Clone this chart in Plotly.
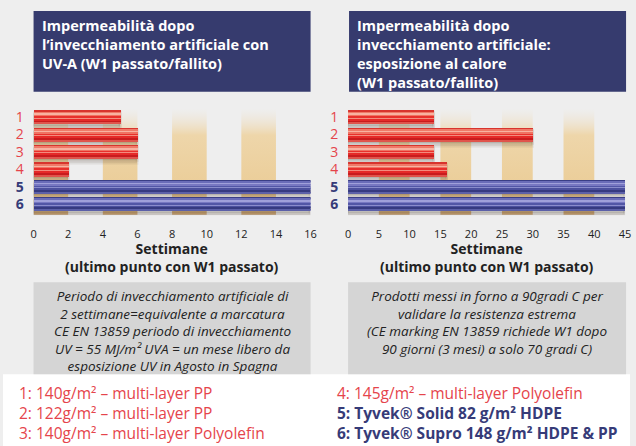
import plotly.graph_objects as go

# ---------------- data ----------------
categories = ["1", "2", "3", "4", "5", "6"]
is_tyvek = [False, False, False, False, True, True]
uv_weeks = [5, 6, 6, 2, 16, 16]          # left chart (weeks)
heat_values = [14, 30, 14, 16, 45, 45]   # right chart
uv_ticks = [0, 2, 4, 6, 8, 10, 12, 14, 16]
heat_ticks = [0, 5, 10, 15, 20, 25, 30, 35, 40, 45]
uv_stripes = [(0, 2), (4, 6), (8, 10), (12, 14)]
heat_stripes = [(5, 10), (15, 20), (25, 30), (35, 40)]

title_left = ["Impermeabilità dopo", "l’invecchiamento artificiale con", "UV-A (W1 passato/fallito)"]
title_right = ["Impermeabilità dopo", "invecchiamento artificiale:", "esposizione al calore", "(W1 passato/fallito)"]
axis_title = ["Settimane", "(ultimo punto con W1 passato)"]
note_left = ["Periodo di invecchiamento artificiale di",
             "2 settimane=equivalente a marcatura",
             "CE EN 13859 periodo di invecchiamento",
             "UV = 55 MJ/m² UVA = un mese libero da",
             "esposizione UV in Agosto in Spagna"]
note_right = ["Prodotti messi in forno a 90gradi C per",
              "validare la resistenza estrema",
              "(CE marking EN 13859 richiede W1 dopo",
              "90 giorni (3 mesi) a solo 70 gradi C)"]
legend_left = ["1: 140g/m² – multi-layer PP",
               "2: 122g/m² – multi-layer PP",
               "3: 140g/m² – multi-layer Polyolefin"]
legend_right = ["4: 145g/m² – multi-layer Polyolefin",
                "5: Tyvek® Solid 82 g/m² HDPE",
                "6: Tyvek® Supro 148 g/m² HDPE &amp; PP"]
legend_right_tyvek = [False, True, True]

# ---------------- style ----------------
W, H = 636, 446
FONT = "Open Sans"
RED_TXT = "#e5444b"
NAVY_TXT = "#363b78"
TITLE_BG = "#363b6e"
BG = "#eeeeee"
NOTE_BG = "#d5d5d5"

red_bands = ["#d8342e", "#ef7a68", "#f8b2a2", "#f07262", "#e8302c",
             "#f38c7e", "#e52a28", "#c81c1e", "#e0544c"]
blue_bands = ["#3a3e86", "#6a6cb8", "#a0a0da", "#7878c2", "#5256a6",
              "#8a8ccc", "#4c509e", "#363a80", "#5c60a8"]
band_edges = [0.0, 0.10, 0.20, 0.35, 0.45, 0.55, 0.62, 0.72, 0.90, 1.0]
BAR_W = 0.78

positions = list(range(1, len(categories) + 1))
Y_RANGE = [6.65, 0.45]


def xp(px):
    return px / W


def yp(py):
    return 1 - py / H


fig = go.Figure()


def add_chart(values, ticks, stripes, base_x, base_y, ov_x, ov_y):
    ymin, ymax = 0.5, 6.62
    for a, b in stripes:
        fig.add_trace(go.Scatter(
            x=[a, b, b, a, a], y=[ymin, ymin, ymax, ymax, ymin],
            mode="lines", line=dict(width=0), fill="toself",
            fillgradient=dict(type="vertical", start=ymin, stop=ymax,
                              colorscale=[[0, "rgba(238,228,210,0.0)"],
                                          [0.25, "#eed6aa"],
                                          [0.75, "#ebcd98"],
                                          [1, "#d2aa78"]]),
            hoverinfo="skip", showlegend=False, xaxis=base_x, yaxis=base_y))
    # shadows
    for dy, extra, alpha in [(0.22, 0.06, 0.10), (0.14, 0.0, 0.16)]:
        fig.add_trace(go.Bar(
            x=values, y=positions, orientation="h",
            width=BAR_W + extra, offset=-BAR_W / 2 + dy,
            marker=dict(color=f"rgba(70,55,40,{alpha})",
                        line=dict(width=3, color=f"rgba(70,55,40,{alpha * 0.6})")),
            hoverinfo="skip", showlegend=False, xaxis=ov_x, yaxis=ov_y))
    for i in range(len(band_edges) - 1):
        f0, f1 = band_edges[i], band_edges[i + 1]
        cols = [blue_bands[i] if t else red_bands[i] for t in is_tyvek]
        fig.add_trace(go.Bar(
            x=values, y=positions, orientation="h",
            width=(f1 - f0) * BAR_W + 0.005, offset=-BAR_W / 2 + f0 * BAR_W,
            marker=dict(color=cols, line=dict(width=0)),
            hoverinfo="skip", showlegend=False, xaxis=ov_x, yaxis=ov_y))


add_chart(uv_weeks, uv_ticks, uv_stripes, "x", "y", "x3", "y3")
add_chart(heat_values, heat_ticks, heat_stripes, "x2", "y2", "x4", "y4")

ticktext = [f"<b><span style='color:{NAVY_TXT}'>{c}</span></b>" if t
            else f"<span style='color:{RED_TXT}'>{c}</span>"
            for c, t in zip(categories, is_tyvek)]

dom_left = [xp(31), xp(312)]
dom_right = [xp(350), xp(631)]
dom_y = [yp(214.8), yp(106.9)]

xcommon = dict(showgrid=False, zeroline=False, showline=False, ticks="outside",
               ticklen=8, tickcolor="rgba(0,0,0,0)",
               tickfont=dict(family=FONT, size=11, color="#222222"), fixedrange=True)
ycommon = dict(showgrid=False, zeroline=False, showline=False, ticks="outside",
               ticklen=6, tickcolor="rgba(0,0,0,0)", range=Y_RANGE,
               tickvals=positions, ticktext=ticktext,
               tickfont=dict(family=FONT, size=14, color=RED_TXT), fixedrange=True)
hidden = dict(visible=False, showgrid=False, zeroline=False, fixedrange=True)

fig.update_layout(
    width=W, height=H, margin=dict(l=0, r=0, t=0, b=0),
    paper_bgcolor=BG, plot_bgcolor="rgba(0,0,0,0)",
    barmode="overlay", bargap=0, showlegend=False,
    xaxis=dict(domain=dom_left, range=[0, 16], tickvals=uv_ticks, anchor="y", **xcommon),
    yaxis=dict(domain=dom_y, anchor="x", **ycommon),
    xaxis2=dict(domain=dom_right, range=[0, 45], tickvals=heat_ticks, anchor="y2", **xcommon),
    yaxis2=dict(domain=dom_y, anchor="x2", **ycommon),
    xaxis3=dict(overlaying="x", range=[0, 16], anchor="y3", **hidden),
    yaxis3=dict(overlaying="y", range=Y_RANGE, anchor="x3", **hidden),
    xaxis4=dict(overlaying="x2", range=[0, 45], anchor="y4", **hidden),
    yaxis4=dict(overlaying="y2", range=Y_RANGE, anchor="x4", **hidden),
)

shapes = [
    dict(type="rect", xref="paper", yref="paper", x0=0, x1=1, y0=0, y1=yp(374),
         fillcolor="white", line=dict(width=0), layer="below"),
    dict(type="rect", xref="paper", yref="paper", x0=xp(31), x1=xp(312), y0=yp(91), y1=yp(10),
         fillcolor=TITLE_BG, line=dict(width=0), layer="below"),
    dict(type="rect", xref="paper", yref="paper", x0=xp(351), x1=xp(632), y0=yp(91), y1=yp(10),
         fillcolor=TITLE_BG, line=dict(width=0), layer="below"),
    dict(type="rect", xref="paper", yref="paper", x0=xp(31), x1=xp(312), y0=yp(374), y1=yp(282),
         fillcolor=NOTE_BG, line=dict(width=0), layer="below"),
    dict(type="rect", xref="paper", yref="paper", x0=xp(350), x1=xp(632), y0=yp(374), y1=yp(282),
         fillcolor=NOTE_BG, line=dict(width=0), layer="below"),
]
fig.update_layout(shapes=shapes)

ann = []


def block(lines, x, y_first, size, color, xanchor="left", align="left", bold=False, italic=False):
    """Multi-line text block; y_first is the pixel centre of the first line."""
    n = len(lines)
    spacing = 1.3 * size
    yc = y_first + (n - 1) * spacing / 2
    s = "<br>".join(lines)
    if bold:
        s = f"<b>{s}</b>"
    if italic:
        s = f"<i>{s}</i>"
    ann.append(dict(text=s, x=xp(x), y=yp(yc), xref="paper", yref="paper",
                    xanchor=xanchor, yanchor="middle", align=align, showarrow=False,
                    font=dict(family=FONT, size=size, color=color)))


block(title_left, 38, 25, 14.5, "white", bold=True)
block(title_right, 357, 25, 14.5, "white", bold=True)
for cx in (171.5, 490.5):
    block(axis_title, cx, 248, 14, "#222222", "center", "center", bold=True)
block(note_left, 171.5, 296, 13.5, "#222222", "center", "center", italic=True)
block(note_right, 491, 296, 13.5, "#222222", "center", "center", italic=True)
block(legend_left, 14, 392.5, 15.5, RED_TXT)
right_lines = [f"<b>{s}</b>" if t else f"<span style='color:{RED_TXT}'>{s}</span>"
               for s, t in zip(legend_right, legend_right_tyvek)]
block(right_lines, 337, 392.5, 15.5, NAVY_TXT)

fig.update_layout(annotations=ann)

fig.write_html("out.html", config={"displayModeBar": False},
               post_script="document.body.style.margin='0';document.body.style.overflow='hidden';")
